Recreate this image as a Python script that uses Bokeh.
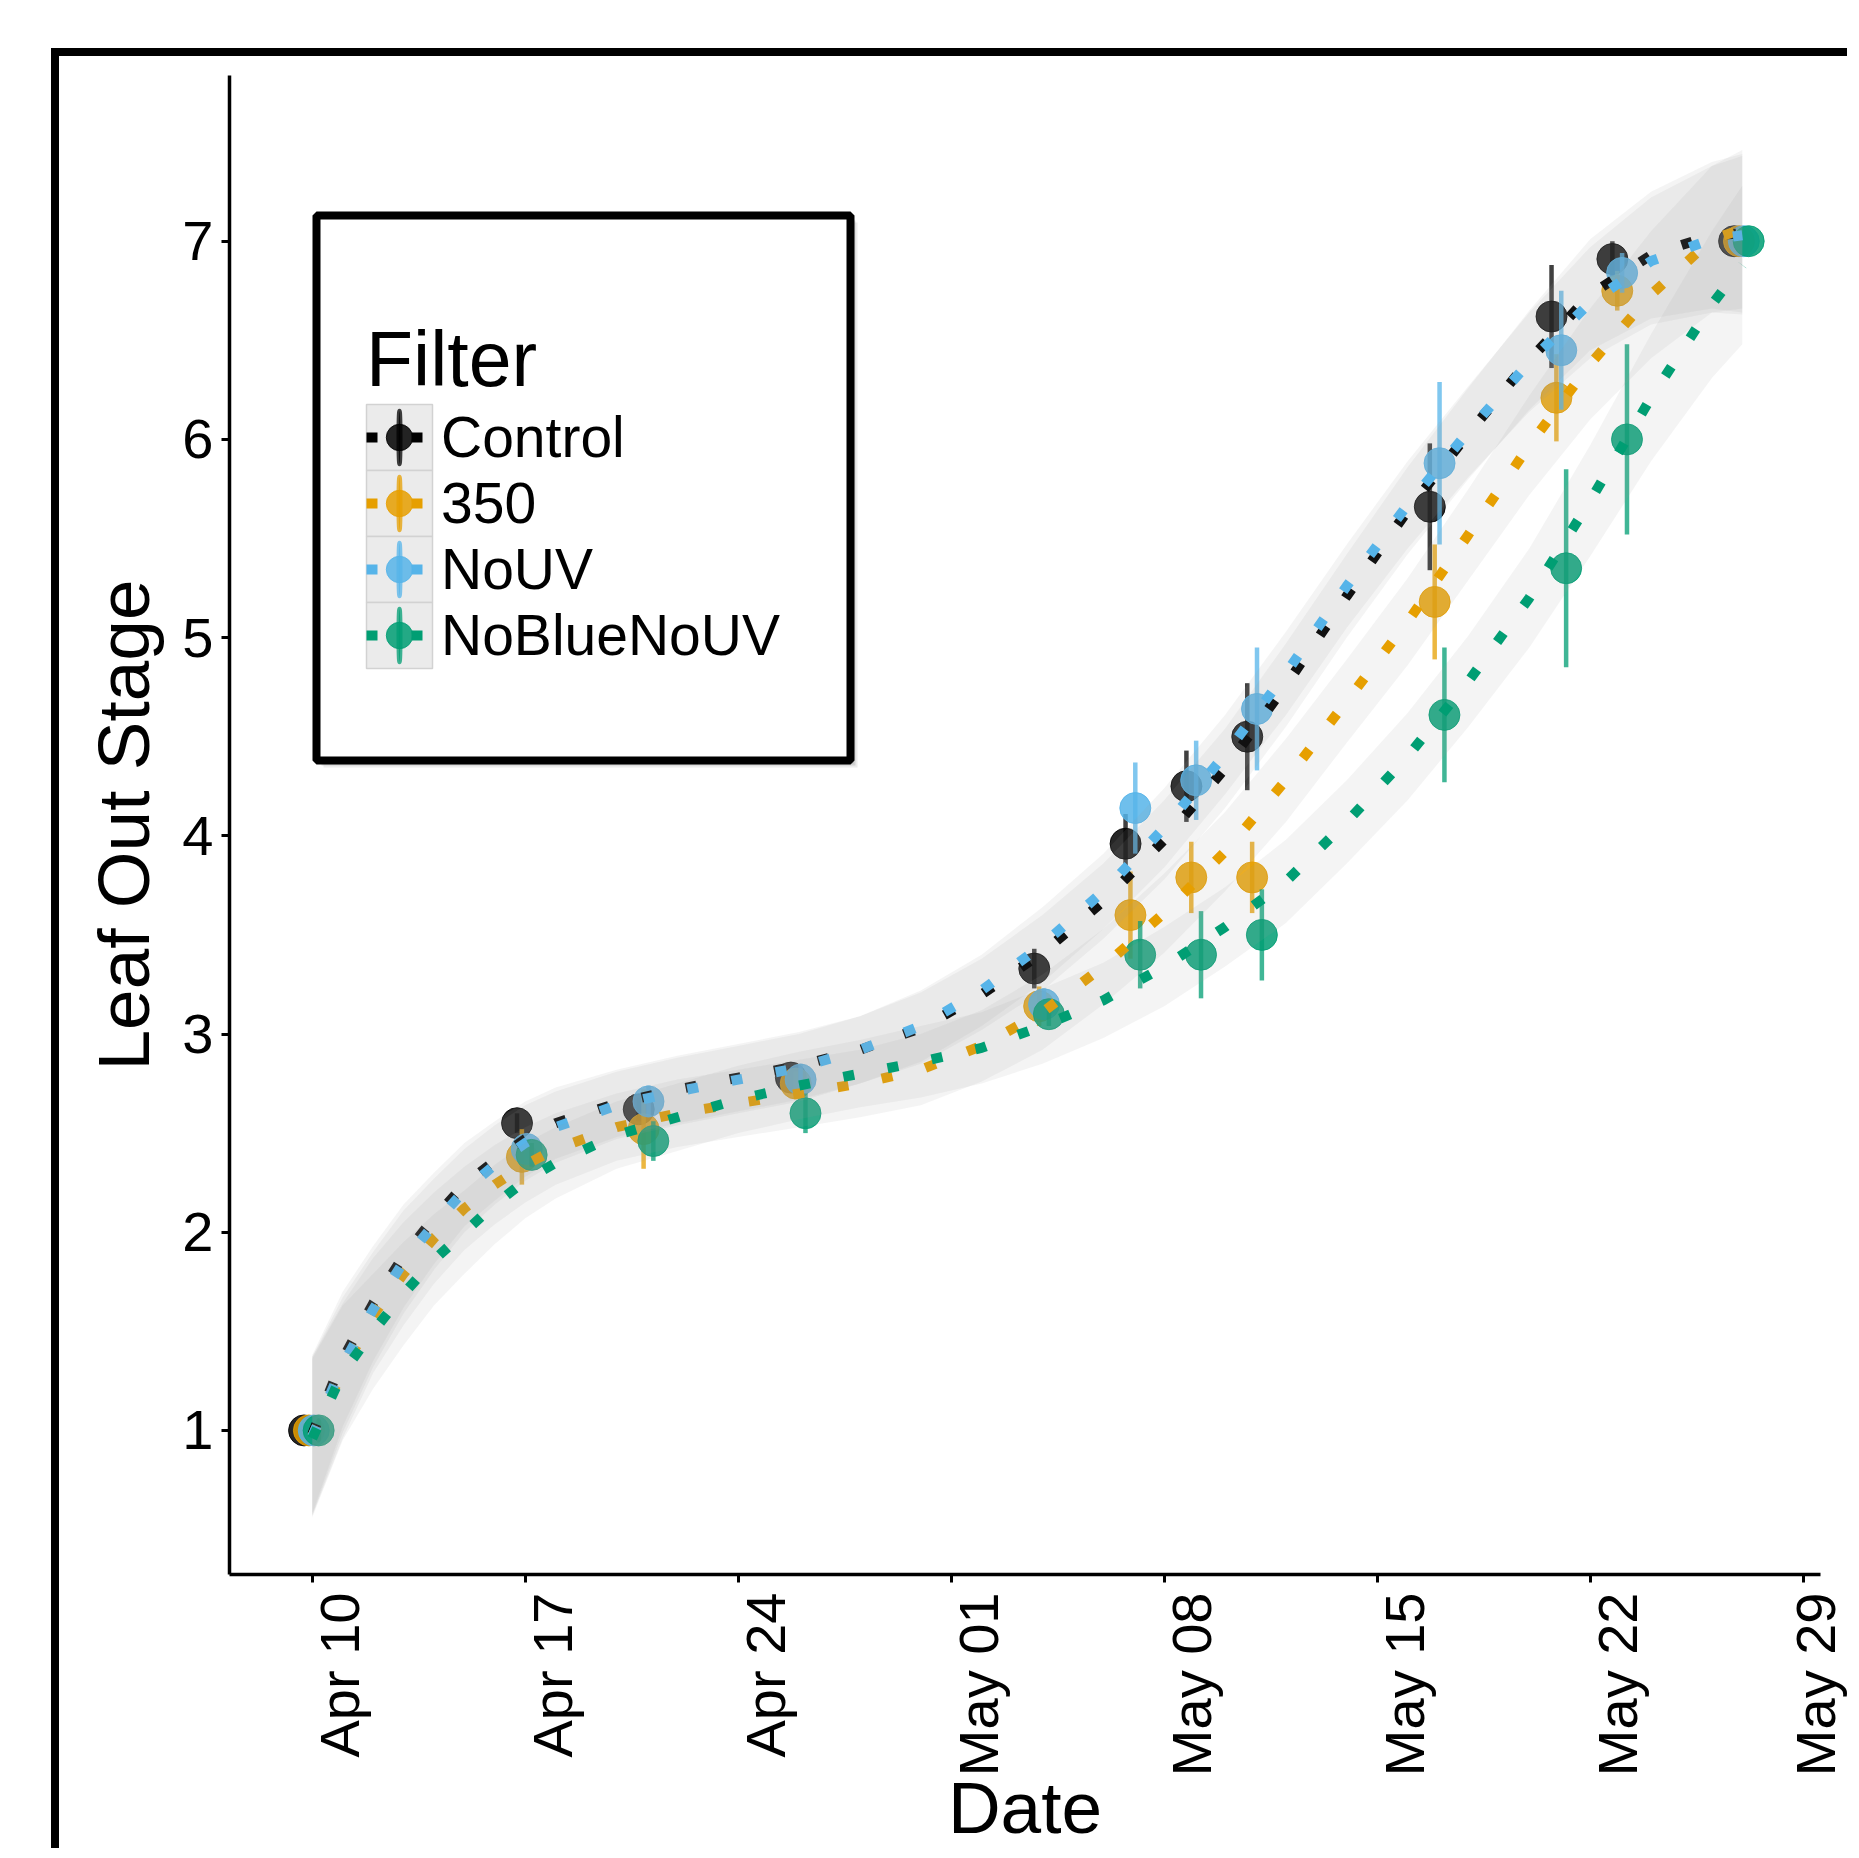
import math
import numpy as np
import pandas as pd
from bokeh.plotting import figure
from bokeh.models import (Range1d, FixedTicker, DatetimeTickFormatter, Legend,
                          LegendItem, BoxAnnotation, ColumnDataSource)
from bokeh.embed import file_html
from bokeh.resources import INLINE

# ---------------- data ----------------
groups = ["Control", "350", "NoUV", "NoBlueNoUV"]
colors = ["#000000", "#E69F00", "#56B4E9", "#009E73"]

obs_dates = ["2016-04-10", "2016-04-17", "2016-04-21", "2016-04-26",
             "2016-05-04", "2016-05-07", "2016-05-09", "2016-05-11",
             "2016-05-17", "2016-05-21", "2016-05-23", "2016-05-27"]

mean_control = [1.00, 2.55, 2.62, 2.78, 3.33, 3.96, 4.25, 4.50, 5.66, 6.62, 6.91, 7.00]
mean_350     = [1.00, 2.38, 2.52, 2.75, 3.14, 3.60, 3.79, 3.79, 5.18, 6.21, 6.75, 7.00]
mean_nouv    = [1.00, 2.42, 2.66, 2.77, 3.15, 4.14, 4.28, 4.64, 5.88, 6.45, 6.84, 7.00]
mean_noblue  = [1.00, 2.39, 2.46, 2.60, 3.10, 3.40, 3.40, 3.50, 4.61, 5.35, 6.00, 7.00]

se_control = [0.00, 0.05, 0.06, 0.05, 0.10, 0.15, 0.18, 0.27, 0.32, 0.26, 0.09, 0.00]
se_350     = [0.00, 0.14, 0.20, 0.06, 0.10, 0.22, 0.18, 0.18, 0.29, 0.22, 0.10, 0.00]
se_nouv    = [0.00, 0.05, 0.08, 0.08, 0.08, 0.23, 0.20, 0.31, 0.41, 0.30, 0.10, 0.00]
se_noblue  = [0.00, 0.06, 0.10, 0.10, 0.06, 0.17, 0.22, 0.23, 0.34, 0.50, 0.48, 0.00]

# smoothed curves, read at these days after Apr 10
fit_days = [0, 1, 2, 3, 4, 5, 6, 7, 8, 10, 12, 14, 16, 18, 20, 22, 24, 26, 28,
            30, 32, 34, 36, 38, 40, 42, 44, 46, 47]
fit_control = [0.98, 1.36, 1.64, 1.88, 2.07, 2.24, 2.36, 2.47, 2.55, 2.65, 2.72, 2.78,
               2.84, 2.92, 3.03, 3.20, 3.41, 3.67, 3.98, 4.34, 4.76, 5.21, 5.64, 6.03,
               6.40, 6.73, 6.93, 7.03, 7.04]
fit_350 = [0.97, 1.30, 1.58, 1.79, 1.97, 2.12, 2.24, 2.34, 2.42, 2.53, 2.60, 2.65,
           2.70, 2.75, 2.82, 2.94, 3.11, 3.34, 3.61, 3.92, 4.28, 4.68, 5.08, 5.52,
           5.97, 6.38, 6.73, 7.01, 7.06]
fit_nouv = [0.97, 1.33, 1.61, 1.85, 2.04, 2.21, 2.34, 2.45, 2.53, 2.64, 2.71, 2.77,
            2.83, 2.92, 3.04, 3.22, 3.45, 3.72, 4.04, 4.41, 4.82, 5.26, 5.67, 6.04,
            6.39, 6.69, 6.90, 7.01, 7.03]
fit_noblue = [0.96, 1.29, 1.50, 1.69, 1.86, 2.00, 2.14, 2.26, 2.35, 2.49, 2.58, 2.67,
              2.74, 2.80, 2.86, 2.93, 3.04, 3.17, 3.34, 3.54, 3.77, 4.07, 4.40, 4.78,
              5.20, 5.69, 6.21, 6.68, 6.88]
ci_half = [0.40, 0.34, 0.29, 0.26, 0.23, 0.21, 0.20, 0.19, 0.18, 0.17, 0.17, 0.17,
           0.17, 0.17, 0.18, 0.18, 0.19, 0.19, 0.20, 0.20, 0.21, 0.21, 0.22, 0.23,
           0.25, 0.28, 0.32, 0.37, 0.40]

tick_dates = ["2016-04-10", "2016-04-17", "2016-04-24", "2016-05-01",
              "2016-05-08", "2016-05-15", "2016-05-22", "2016-05-29"]
y_ticks = [1, 2, 3, 4, 5, 6, 7]

means = [mean_control, mean_350, mean_nouv, mean_noblue]
ses = [se_control, se_350, se_nouv, se_noblue]
fits = [fit_control, fit_350, fit_nouv, fit_noblue]

# ---------------- figure ----------------
FONT = "Liberation Sans"
OX, OY = 59, 56            # canvas origin inside the black outer frame (page px)
CX, CY = OX + 8, OY + 8    # origin used by canvas-unit annotations (measured)
W, H = 1796, 1800
FL, FT, FR, FB = 229 - OX, 75 - OY, 1820 - OX, 1574 - OY   # plot frame in canvas px
base = pd.Timestamp(obs_dates[0])
dodge = [-0.27, -0.11, 0.05, 0.21]   # position_dodge offsets (days)

p = figure(width=W, height=H, x_axis_type="datetime", output_backend="svg",
           toolbar_location=None,
           x_range=Range1d(base - pd.Timedelta(days=2.72), base + pd.Timedelta(days=49.57)),
           y_range=Range1d(0.273, 7.836),
           min_border_left=FL, min_border_right=W - FR, min_border_top=FT,
           min_border_bottom=H - FB)
p.styles = {"margin-left": "51px", "margin-top": "48px",
            "border-left": "8px solid black", "border-top": "8px solid black"}
p.background_fill_color = "white"
p.border_fill_color = "white"
p.outline_line_color = None
p.grid.visible = False

fit_x = np.array([base + pd.Timedelta(days=float(d)) for d in fit_days], dtype="datetime64[ms]")

line_rs, ell_rs, circ_rs = [], [], []
for g, c, m, s, off in zip(groups, colors, means, ses, dodge):
    x = np.array([pd.Timestamp(d) + pd.Timedelta(days=off) for d in obs_dates],
                 dtype="datetime64[ms]")
    m = np.array(m); s = np.array(s)
    src = ColumnDataSource(dict(x=x, y=m, lo=m - s, hi=m + s))
    p.segment(x0="x", y0="lo", x1="x", y1="hi", source=src, line_color=c,
              line_width=4.5, line_alpha=0.75)
    # helper used for the vertical bar in the legend key (hidden under the first point)
    er = p.ellipse(x=[x[0]], y=[m[0]], width=0.6, height=20, width_units="screen",
                   height_units="screen", fill_color=c, line_color=c, line_width=4.5,
                   fill_alpha=0.75, line_alpha=0.75)
    cr = p.scatter(x="x", y="y", source=src, size=31, marker="circle", fill_color=c,
                   line_color=c, line_width=1, fill_alpha=0.85, line_alpha=0.85)
    ell_rs.append(er); circ_rs.append(cr)

for g, c, f in zip(groups, colors, fits):
    f = np.array(f); h = np.array(ci_half)
    p.varea(x=fit_x, y1=f - h, y2=f + h, fill_color="#999999", fill_alpha=0.11)
    lr = p.line(x=fit_x, y=f, line_color=c, line_width=10, line_dash="11 34",
                line_cap="butt")
    line_rs.append(lr)

# ---------------- axes ----------------
p.xaxis.ticker = FixedTicker(ticks=[pd.Timestamp(t).value / 1e6 for t in tick_dates])
# leading empty line pushes each rotated label to the right of its tick (as in ggplot)
p.xaxis.formatter = DatetimeTickFormatter(days="\n%b %d", months="\n%b %d", hours="\n%b %d")
p.xaxis.major_label_orientation = math.pi / 2
p.xaxis.major_label_text_line_height = 0.88
p.yaxis.ticker = FixedTicker(ticks=y_ticks)
for ax in (p.xaxis, p.yaxis):
    ax.axis_line_color = "black"
    ax.axis_line_width = 3.5
    ax.major_tick_line_color = "black"
    ax.major_tick_line_width = 3
    ax.major_tick_in = 0
    ax.major_tick_out = 8
    ax.minor_tick_line_color = None
    ax.major_label_text_font = FONT
    ax.major_label_text_font_size = "56px"
    ax.major_label_text_color = "black"
    ax.axis_label_text_font = FONT
    ax.axis_label_text_font_size = "73px"
    ax.axis_label_text_font_style = "normal"
    ax.axis_label_text_color = "black"
p.xaxis.axis_label = "Date"
p.yaxis.axis_label = "Leaf Out Stage"
p.xaxis.major_label_standoff = 10
p.yaxis.major_label_standoff = 8
p.xaxis.axis_label_standoff = -12
p.yaxis.axis_label_standoff = 15

# ---------------- legend box ----------------
def cbox(l, r, t, b, **kw):
    return BoxAnnotation(left=l - CX, right=r - CX, top=t - CY, bottom=b - CY,
                         left_units="canvas", right_units="canvas",
                         top_units="canvas", bottom_units="canvas", **kw)

for k, a in [(7, 0.15), (5, 0.25), (3, 0.35)]:
    p.add_layout(cbox(316 + k, 850 + k, 215 + k, 760 + k,
                      fill_color="#808080", fill_alpha=a, line_alpha=0))
p.add_layout(cbox(316, 850, 215, 760, fill_color="white", fill_alpha=1,
                  line_color="black", line_width=8, line_alpha=1, line_dash="solid"))
KT = 404                    # top of the first legend key (page px)
for i in range(4):
    p.add_layout(cbox(366, 432, KT + 66 * i, KT + 66 * (i + 1),
                      fill_color="#EBEBEB", fill_alpha=1, line_color="#D2D2D2",
                      line_width=1.5, line_alpha=1, line_dash="solid"))

items = [LegendItem(label=g, renderers=[lr, er, cr])
         for g, lr, er, cr in zip(groups, line_rs, ell_rs, circ_rs)]
legend = Legend(items=items, location=(366 - 229, 1574 - (KT + 264)), title="Filter",
                title_text_font=FONT, title_text_font_size="77px",
                title_text_font_style="normal", title_text_color="black",
                title_standoff=-6,
                label_text_font=FONT, label_text_font_size="57px",
                label_text_color="black",
                glyph_width=66, glyph_height=66, spacing=0, padding=0, margin=0,
                label_standoff=9, border_line_alpha=0, background_fill_alpha=0)
p.add_layout(legend)

open("out.html", "w").write(file_html(p, INLINE))
